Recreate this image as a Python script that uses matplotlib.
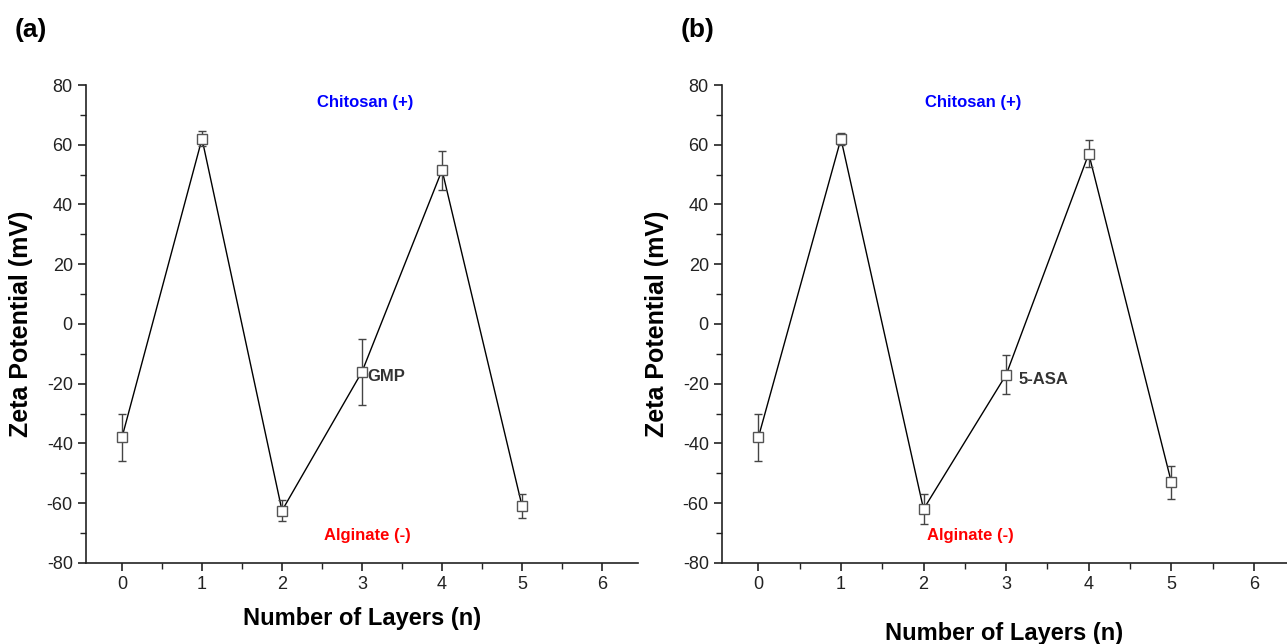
import numpy as np
import matplotlib.pyplot as plt
from matplotlib.ticker import MultipleLocator

plt.rcParams['font.family'] = ['Liberation Sans', 'DejaVu Sans']
plt.rcParams['axes.unicode_minus'] = False

layers = [0, 1, 2, 3, 4, 5]

# panel (a): GMP
zeta_a = [-38, 62, -62.5, -16, 51.5, -61]
err_a = [8, 2.5, 3.5, 11, 6.5, 4]

# panel (b): 5-ASA
zeta_b = [-38, 62, -62, -17, 57, -53]
err_b = [8, 2, 5, 6.5, 4.5, 5.5]


def draw_panel(ax, x, y, err, drug, xlim, chit_x, alg_x, drug_x):
    ax.plot(x, y, color="black", lw=1.0, zorder=2)
    ax.errorbar(x, y, yerr=err, fmt="s", mfc="white", mec="#555555",
                ms=7, mew=1.0, ecolor="#444444", elinewidth=1.0,
                capsize=3, capthick=1.0, zorder=3)
    ax.set_xlim(*xlim)
    ax.set_ylim(-80, 80)
    ax.xaxis.set_major_locator(MultipleLocator(1))
    ax.xaxis.set_minor_locator(MultipleLocator(0.5))
    ax.yaxis.set_major_locator(MultipleLocator(20))
    ax.yaxis.set_minor_locator(MultipleLocator(10))
    for s in ["top", "right"]:
        ax.spines[s].set_visible(False)
    for s in ["left", "bottom"]:
        ax.spines[s].set_linewidth(1.2)
        ax.spines[s].set_color("#222222")
    ax.tick_params(which="major", direction="out", length=6, width=1.2,
                   labelsize=13, colors="#222222")
    ax.tick_params(which="minor", direction="out", length=4, width=1.0,
                   colors="#222222")
    ax.set_ylabel("Zeta Potential (mV)", fontsize=18, fontweight="bold")
    ax.text(chit_x, 74, "Chitosan (+)", color="blue", fontsize=12,
            fontweight="bold", ha="center", va="center")
    ax.text(alg_x, -71, "Alginate (-)", color="red", fontsize=12,
            fontweight="bold", ha="center", va="center")
    ax.text(drug_x, y[3] - 1.5, drug, color="#333333", fontsize=12,
            fontweight="bold", ha="left", va="center")


fig = plt.figure(figsize=(12.87, 6.44), dpi=100)
ax1 = fig.add_axes([0.0668, 0.126, 0.429, 0.742])
ax2 = fig.add_axes([0.561, 0.126, 0.439, 0.742])

draw_panel(ax1, layers, zeta_a, err_a, "GMP", (-0.45, 6.45), 3.04, 3.07, 3.07)
draw_panel(ax2, layers, zeta_b, err_b, "5-ASA", (-0.44, 6.4), 2.6, 2.57, 3.15)

ax1.set_xlabel("Number of Layers (n)", fontsize=17, fontweight="bold", labelpad=10)
ax2.set_xlabel("Number of Layers (n)", fontsize=17, fontweight="bold", labelpad=21)
ax1.yaxis.set_label_coords(-0.096, 0.5)
ax2.yaxis.set_label_coords(-0.094, 0.5)

fig.text(0.011, 0.953, "(a)", fontsize=19, fontweight="heavy", va="center")
fig.text(0.529, 0.953, "(b)", fontsize=19, fontweight="heavy", va="center")

fig.savefig("out.png", dpi=100)
